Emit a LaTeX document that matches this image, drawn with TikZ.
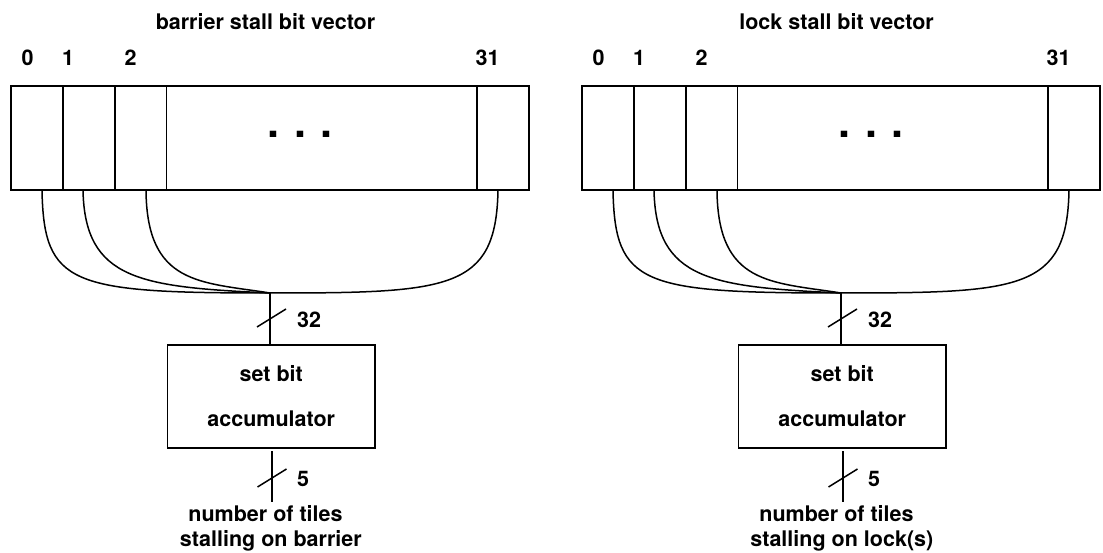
\documentclass[tikz,border=0pt]{standalone}
\usepackage{fontspec}
\setmainfont{TeX Gyre Heros}
\tikzset{
  txt/.style={font=\fontsize{21.5}{24}\selectfont\bfseries, inner sep=0pt, anchor=base},
  cell/.style={draw, line width=1.6pt, minimum height=103.5pt, inner sep=0pt},
  accbox/.style={draw, line width=1.6pt, minimum width=207.7pt, minimum height=103.3pt,
    inner sep=0pt, align=center, font=\fontsize{21.5}{24}\selectfont\bfseries},
  dotstxt/.style={font=\fontsize{43}{50}\selectfont\bfseries, inner sep=0pt, anchor=base},
  wire/.style={line width=1.5pt},
}
\newcommand\drawpanel[5]{%
\begin{scope}[shift={(#2,0)}]
  \node[txt] (#1-title) at (265.5,30) {#3};
  \node[txt] (#1-n0) at (27.5,66) {0};
  \node[txt] (#1-n1) at (68.2,66) {1};
  \node[txt] (#1-n2) at (130.5,66) {2};
  \node[txt] (#1-n31) at (487.5,66) {31};
  \node[cell, minimum width=52pt] (#1-c0) at (36.7,138) {};
  \node[cell, minimum width=52pt] (#1-c1) at (88.7,138) {};
  \node[cell, minimum width=51.6pt] (#1-c2) at (140.5,138) {};
  \node[cell, minimum width=310.7pt] (#1-cm) at (321.65,138) {};
  \node[cell, minimum width=51.7pt] (#1-c31) at (502.85,138) {};
  \node[dotstxt] (#1-dots) at (300,138) {.\,\,.\,\,.};
  \coordinate (#1-j) at (270,293);
  \draw[wire] ([xshift=5.3pt]#1-c0.south) .. controls (44,285) and (70,293) .. (#1-j);
  \draw[wire] ([xshift=-5.7pt]#1-c1.south) .. controls (85,280) and (140,287) .. (#1-j);
  \draw[wire] ([xshift=5.5pt]#1-c2.south) .. controls (147,285) and (200,282) .. (#1-j);
  \draw[wire] ([xshift=-4.85pt]#1-c31.south) .. controls (496,290) and (450,293) .. (#1-j);
  \node[accbox] (#1-acc) at (271.2,396.4) {set bit\\[21pt]accumulator};
  \draw[wire] (#1-j) -- (#1-j |- #1-acc.north);
  \draw[wire] (257,327) -- (286,309);
  \node[txt] (#1-w32) at (309,327.7) {32};
  \coordinate (#1-out) at (272,502);
  \draw[wire, shorten <=2.5pt] (#1-acc.south -| #1-out) -- (#1-out);
  \draw[wire] (257.5,487) -- (286.5,469);
  \node[txt] (#1-w5) at (303,486) {5};
  \node[txt] (#1-b1) at (265.5,521.7) {#4};
  \node[txt] (#1-b2) at (270.8,546) {#5};
\end{scope}}
\begin{document}
\begin{tikzpicture}[x=1pt, y=-1pt]
  \useasboundingbox (0,0) rectangle (1103,553);
  \drawpanel{L}{0}{barrier stall bit vector}{number of tiles}{stalling on barrier}
  \drawpanel{R}{571}{lock stall bit vector}{number of tiles}{stalling on lock(s)}
\end{tikzpicture}
\end{document}
